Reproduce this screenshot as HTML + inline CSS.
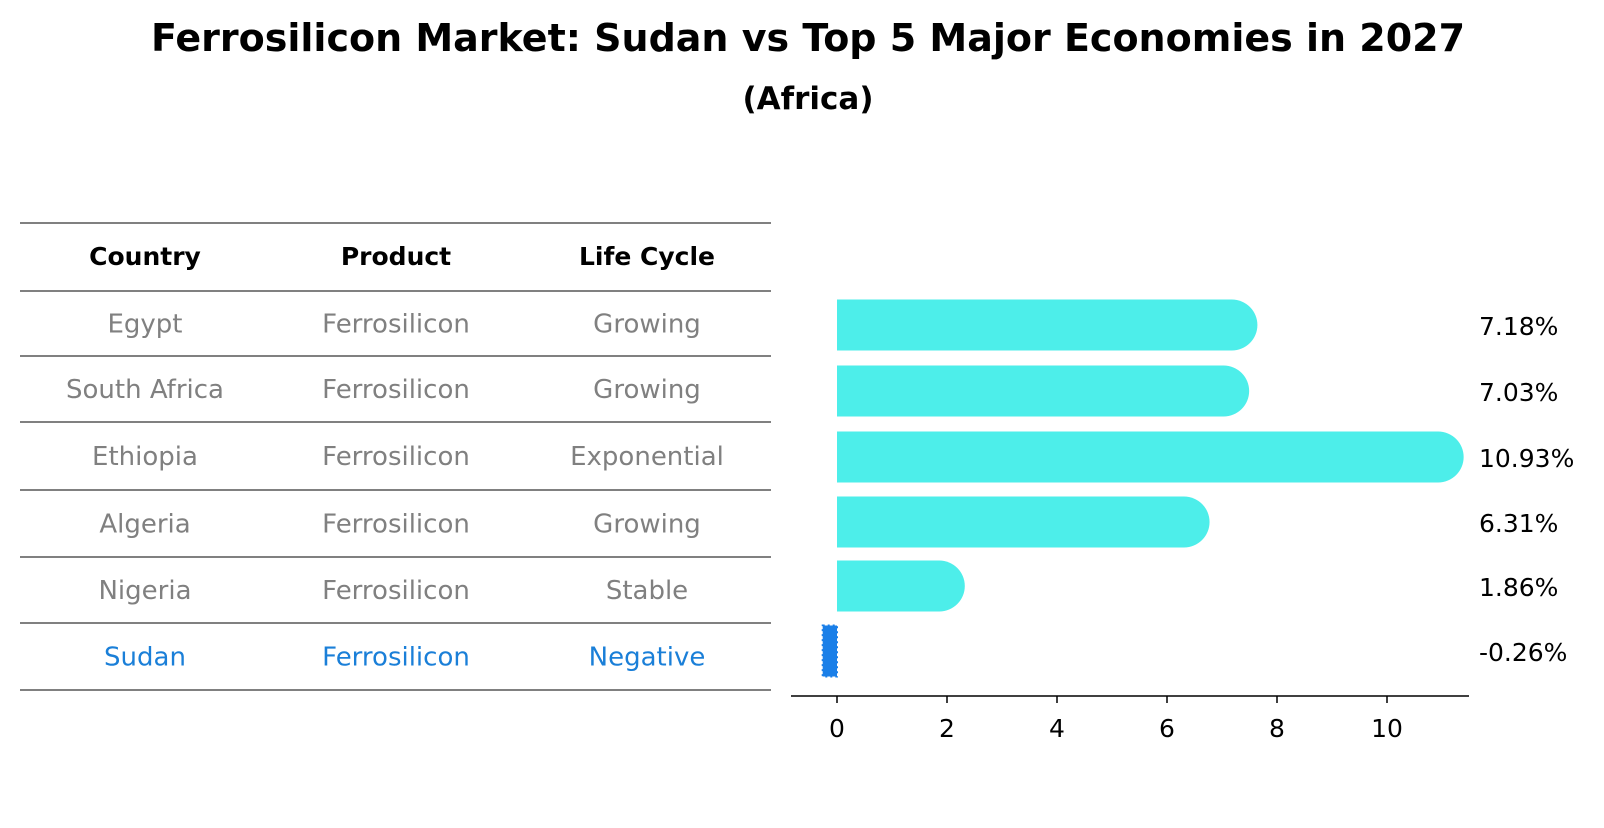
<!DOCTYPE html>
<html><head><meta charset="utf-8"><style>
body{margin:0;background:#fff;font-family:"Liberation Sans","DejaVu Sans",sans-serif;}
</style></head><body>
<svg width="1604" height="823" xmlns="http://www.w3.org/2000/svg" font-family="DejaVu Sans, Liberation Sans, sans-serif">
<text x="808" y="51" text-anchor="middle" font-size="38" font-weight="bold">Ferrosilicon Market: Sudan vs Top 5 Major Economies in 2027</text>
<text x="808" y="109" text-anchor="middle" font-size="31" font-weight="bold">(Africa)</text>
<g id="table"></g>
<g id="bars"></g>
</svg>
<script>
const countries=["Egypt","South Africa","Ethiopia","Algeria","Nigeria","Sudan"];
const products=["Ferrosilicon","Ferrosilicon","Ferrosilicon","Ferrosilicon","Ferrosilicon","Ferrosilicon"];
const cycles=["Growing","Growing","Exponential","Growing","Stable","Negative"];
const values=[7.18,7.03,10.93,6.31,1.86,-0.26];
const ticks=[0,2,4,6,8,10];
const NS="http://www.w3.org/2000/svg";
function mk(t,a,p){const e=document.createElementNS(NS,t);for(const k in a)e.setAttribute(k,a[k]);p.appendChild(e);return e;}
const tb=document.getElementById('table');
const lines=[223,291,356,422,490,557,623,690];
const cols=[145,396,647];
lines.forEach(y=>{const l=mk('line',{x1:20,x2:771,y1:y,y2:y,stroke:'#000','stroke-width':1},tb);

});
["Country","Product","Life Cycle"].forEach((h,i)=>{const t=mk('text',{x:cols[i],y:265,'text-anchor':'middle','font-size':25,'font-weight':'bold'},tb);t.textContent=h;

});
countries.forEach((c,r)=>{const y=(lines[r+1]+lines[r+2])/2+9;const col=r==5?'#1a7fd8':'#808080';
[c,products[r],cycles[r]].forEach((v,i)=>{const t=mk('text',{x:cols[i],y:y,'text-anchor':'middle','font-size':26,fill:col},tb);t.textContent=v;

});});
const bg=document.getElementById('bars');
const x0=837,sc=55;const X=v=>x0+v*sc;
const centers=[325,391,457,522,586,651];const bh=51;
values.forEach((v,i)=>{const cy=centers[i];let e;
if(v>=0){const xe=X(v);e=mk('path',{d:`M${x0},${cy-bh/2} H${xe} A${bh/2},${bh/2} 0 0 1 ${xe},${cy+bh/2} H${x0} Z`,fill:'#4deeea'},bg);}
else{e=mk('rect',{x:X(v),y:cy-bh/2,width:x0-X(v),height:bh,fill:'#1a7fe8',stroke:'#1a7fe8','stroke-width':2,'stroke-dasharray':'2 3'},bg);}


const t=mk('text',{x:1479,y:cy+10,'font-size':25},bg);t.textContent=v.toFixed(2)+'%';

});
const ax=mk('line',{x1:791,x2:1469,y1:696,y2:696,stroke:'#000','stroke-width':1.5},bg);


ticks.forEach(v=>{const tk=mk('line',{x1:X(v),x2:X(v),y1:696,y2:703,stroke:'#000','stroke-width':1.5},bg);


const t=mk('text',{x:X(v),y:737,'text-anchor':'middle','font-size':25},bg);t.textContent=v;

});
</script>
</body></html>
